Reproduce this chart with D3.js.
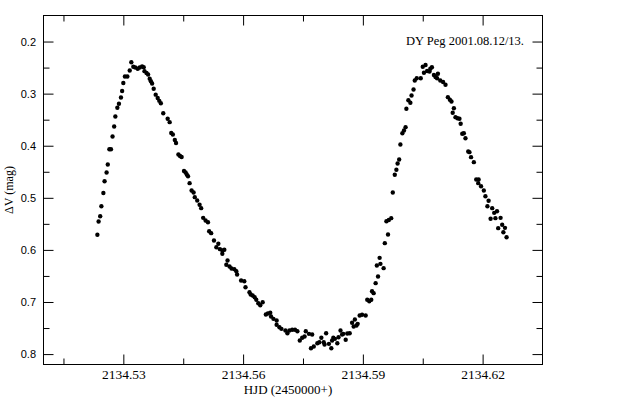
<!DOCTYPE html>
<html>
<head>
<meta charset="utf-8">
<script src="https://cdn.jsdelivr.net/npm/d3@7"></script>
<style>
  html, body { margin: 0; padding: 0; background: #fff; }
  svg { display: block; }
</style>
</head>
<body>
<script>
// ---- data ----
const hjd = [
  2134.5235, 2134.5238, 2134.5242, 2134.5245, 2134.5250, 2134.5253, 2134.5258, 2134.5261,
  2134.5265, 2134.5269, 2134.5273, 2134.5277, 2134.5280, 2134.5285, 2134.5289, 2134.5294,
  2134.5297, 2134.5300, 2134.5304, 2134.5310, 2134.5316, 2134.5320, 2134.5325, 2134.5330,
  2134.5336, 2134.5341, 2134.5347, 2134.5351, 2134.5353, 2134.5358, 2134.5362, 2134.5366,
  2134.5369, 2134.5372, 2134.5376, 2134.5381, 2134.5386, 2134.5390, 2134.5394, 2134.5400,
  2134.5411, 2134.5416, 2134.5420, 2134.5424, 2134.5429, 2134.5432, 2134.5438, 2134.5442,
  2134.5446, 2134.5452, 2134.5456, 2134.5459, 2134.5462, 2134.5466, 2134.5471, 2134.5476,
  2134.5479, 2134.5485, 2134.5491, 2134.5495, 2134.5500, 2134.5506, 2134.5512, 2134.5515,
  2134.5520, 2134.5527, 2134.5533, 2134.5538, 2134.5542, 2134.5548, 2134.5548, 2134.5553,
  2134.5558, 2134.5561, 2134.5566, 2134.5571, 2134.5578, 2134.5583, 2134.5585, 2134.5595,
  2134.5603, 2134.5606, 2134.5616, 2134.5619, 2134.5624, 2134.5629, 2134.5633, 2134.5638,
  2134.5643, 2134.5649, 2134.5657, 2134.5662, 2134.5668, 2134.5670, 2134.5676, 2134.5684,
  2134.5684, 2134.5691, 2134.5696, 2134.5706, 2134.5711, 2134.5716, 2134.5723, 2134.5730,
  2134.5736, 2134.5742, 2134.5748, 2134.5754, 2134.5757, 2134.5765, 2134.5770, 2134.5773,
  2134.5777, 2134.5786, 2134.5791, 2134.5796, 2134.5802, 2134.5804, 2134.5808, 2134.5815,
  2134.5821, 2134.5823, 2134.5826, 2134.5830, 2134.5836, 2134.5839, 2134.5844, 2134.5848,
  2134.5851, 2134.5857, 2134.5861, 2134.5867, 2134.5873, 2134.5877, 2134.5880, 2134.5884,
  2134.5887, 2134.5892, 2134.5898, 2134.5907, 2134.5911, 2134.5916, 2134.5921, 2134.5923,
  2134.5927, 2134.5932, 2134.5935, 2134.5938, 2134.5942, 2134.5944, 2134.5952, 2134.5955,
  2134.5963, 2134.5959, 2134.5965, 2134.5971, 2134.5975, 2134.5980, 2134.5984, 2134.5987,
  2134.5991, 2134.5994, 2134.5999, 2134.6003, 2134.6007, 2134.6009, 2134.6014, 2134.6019,
  2134.6022, 2134.6027, 2134.6030, 2134.6035, 2134.6045, 2134.6050, 2134.6053, 2134.6057,
  2134.6061, 2134.6067, 2134.6069, 2134.6073, 2134.6078, 2134.6082, 2134.6088, 2134.6086,
  2134.6094, 2134.6101, 2134.6107, 2134.6113, 2134.6118, 2134.6122, 2134.6125, 2134.6128,
  2134.6132, 2134.6137, 2134.6142, 2134.6145, 2134.6149, 2134.6153, 2134.6157, 2134.6164,
  2134.6167, 2134.6171, 2134.6178, 2134.6184, 2134.6190, 2134.6189, 2134.6196, 2134.6203,
  2134.6207, 2134.6215, 2134.6212, 2134.6224, 2134.6229, 2134.6236, 2134.6232, 2134.6220,
  2134.6245, 2134.6249, 2134.6256, 2134.6239, 2134.6252, 2134.6260
];
const dv = [
  0.571, 0.5455, 0.5353, 0.5161, 0.4908, 0.4681, 0.4514, 0.436,
  0.4067, 0.4067, 0.3823, 0.3631, 0.3439, 0.3272, 0.3195, 0.3074,
  0.2949, 0.2796, 0.2671, 0.2671, 0.2556, 0.2397, 0.2485, 0.2498,
  0.2523, 0.2498, 0.2479, 0.2493, 0.2569, 0.2604, 0.2633, 0.2715,
  0.2761, 0.2805, 0.2907, 0.302, 0.3084, 0.3138, 0.3184, 0.3376,
  0.3483, 0.3548, 0.3756, 0.3785, 0.389, 0.3948, 0.4168, 0.4197,
  0.4216, 0.4485, 0.4514, 0.4552, 0.4585, 0.4719, 0.486, 0.4898,
  0.4988, 0.5052, 0.5134, 0.5199, 0.5384, 0.5436, 0.5468, 0.5641,
  0.5679, 0.5819, 0.5948, 0.5883, 0.5986, 0.6011, 0.6075, 0.5998,
  0.6286, 0.6203, 0.6319, 0.6357, 0.637, 0.6409, 0.6472, 0.6587,
  0.6601, 0.6716, 0.6812, 0.6856, 0.6875, 0.6908, 0.6958, 0.7023,
  0.7062, 0.7004, 0.724, 0.7221, 0.7207, 0.7278, 0.7323, 0.7355,
  0.7438, 0.7484, 0.7515, 0.7547, 0.7599, 0.7547, 0.7534, 0.7534,
  0.7561, 0.7739, 0.7687, 0.7662, 0.7561, 0.7611, 0.7887, 0.7624,
  0.7854, 0.7791, 0.7772, 0.7687, 0.7772, 0.7816, 0.7599, 0.7803,
  0.7887, 0.7739, 0.7687, 0.7707, 0.7791, 0.7676, 0.7547, 0.7624,
  0.7611, 0.7726, 0.7605, 0.7599, 0.7399, 0.7471, 0.7336, 0.7451,
  0.7419, 0.7259, 0.7246, 0.7259, 0.6958, 0.6985, 0.6958, 0.6793,
  0.6831, 0.6639, 0.6299, 0.6511, 0.6152, 0.6267, 0.6351, 0.5871,
  0.5704, 0.5449, 0.5426, 0.5391, 0.4898, 0.4558, 0.4462, 0.4341,
  0.4264, 0.3976, 0.376, 0.3708, 0.3644, 0.3291, 0.3126, 0.3176,
  0.3036, 0.2921, 0.2748, 0.2704, 0.2704, 0.2485, 0.26, 0.245,
  0.2565, 0.2575, 0.2523, 0.2493, 0.2642, 0.2681, 0.2619, 0.2704,
  0.2748, 0.2777, 0.283, 0.3068, 0.3118, 0.3151, 0.3368, 0.328,
  0.3452, 0.3472, 0.3483, 0.3579, 0.3771, 0.376, 0.3856, 0.4111,
  0.4124, 0.422, 0.4316, 0.4648, 0.4648, 0.4719, 0.4777, 0.486,
  0.4969, 0.5057, 0.5161, 0.5199, 0.5288, 0.5257, 0.5391, 0.5403,
  0.5384, 0.5518, 0.5576, 0.5583, 0.566, 0.5756
];
const xMajorTicks = [2134.53, 2134.56, 2134.59, 2134.62];
const xMinorTicks = [2134.515, 2134.545, 2134.575, 2134.605];
const yMajorTicks = [0.2, 0.3, 0.4, 0.5, 0.6, 0.7, 0.8];
const yMinorTicks = [0.25, 0.35, 0.45, 0.55, 0.65, 0.75];
const xDomain = [2134.51, 2134.635];
const yDomain = [0.15, 0.82];
const titleText = "DY Peg 2001.08.12/13.";
const xLabel = "HJD (2450000+)";
const yLabel = "\u0394V (mag)";

// ---- layout ----
const W = 640, H = 404;
const L = 43.5, R = 542.5, T = 15.5, B = 364.5;
const serif = "'Liberation Serif', 'Times New Roman', serif";
const sans = "'Liberation Sans', Arial, sans-serif";

const svg = d3.select("body").append("svg").attr("width", W).attr("height", H);

const x = d3.scaleLinear().domain(xDomain).range([L, R]);
const y = d3.scaleLinear().domain(yDomain).range([T, B]);

function styleAxis(g) {
  g.select(".domain").remove();
  g.selectAll(".tick line").attr("stroke", "#000").attr("stroke-width", 1);
}

// bottom major (with labels)
svg.append("g").attr("transform", `translate(0,${B})`)
  .call(d3.axisBottom(x).tickValues(xMajorTicks).tickSize(-10).tickPadding(5)
        .tickFormat(d3.format(".2f")))
  .call(styleAxis)
  .call(g => g.selectAll("text").attr("font-family", serif).attr("font-size", 13.5).attr("fill", "#000"));
svg.append("g").attr("transform", `translate(0,${B})`)
  .call(d3.axisBottom(x).tickValues(xMinorTicks).tickSize(-6).tickFormat(""))
  .call(styleAxis);
// top
svg.append("g").attr("transform", `translate(0,${T})`)
  .call(d3.axisTop(x).tickValues(xMajorTicks).tickSize(-10).tickFormat(""))
  .call(styleAxis);
svg.append("g").attr("transform", `translate(0,${T})`)
  .call(d3.axisTop(x).tickValues(xMinorTicks).tickSize(-6).tickFormat(""))
  .call(styleAxis);
// left
svg.append("g").attr("transform", `translate(${L},0)`)
  .call(d3.axisLeft(y).tickValues(yMajorTicks).tickSize(-10).tickPadding(7.5)
        .tickFormat(d3.format(".1f")))
  .call(styleAxis)
  .call(g => g.selectAll("text").attr("font-family", sans).attr("font-size", 11).attr("fill", "#000"));
svg.append("g").attr("transform", `translate(${L},0)`)
  .call(d3.axisLeft(y).tickValues(yMinorTicks).tickSize(-6).tickFormat(""))
  .call(styleAxis);
// right
svg.append("g").attr("transform", `translate(${R},0)`)
  .call(d3.axisRight(y).tickValues(yMajorTicks).tickSize(-10).tickFormat(""))
  .call(styleAxis);
svg.append("g").attr("transform", `translate(${R},0)`)
  .call(d3.axisRight(y).tickValues(yMinorTicks).tickSize(-6).tickFormat(""))
  .call(styleAxis);

// frame
svg.append("rect").attr("x", L).attr("y", T).attr("width", R - L).attr("height", B - T)
  .attr("fill", "none").attr("stroke", "#000").attr("stroke-width", 1);

// points
const pts = hjd.map((h, i) => [h, dv[i]]);
svg.append("g").selectAll("path").data(pts).join("path")
  .attr("d", d3.symbol().type(d3.symbolCircle).size(15))
  .attr("transform", d => `translate(${x(d[0])},${y(d[1])})`)
  .attr("fill", "#000");

// title
svg.append("text").attr("x", 524).attr("y", 45).attr("text-anchor", "end")
  .attr("font-family", serif).attr("font-size", 12.5).attr("fill", "#000").text(titleText);

// axis labels
svg.append("text").attr("x", 288).attr("y", 394).attr("text-anchor", "middle")
  .attr("font-family", serif).attr("font-size", 13).attr("fill", "#000").text(xLabel);
svg.append("text").attr("transform", `translate(13,${(T + B) / 2}) rotate(-90)`)
  .attr("text-anchor", "middle").attr("font-family", serif).attr("font-size", 12)
  .attr("fill", "#000").text(yLabel);
</script>
</body>
</html>
